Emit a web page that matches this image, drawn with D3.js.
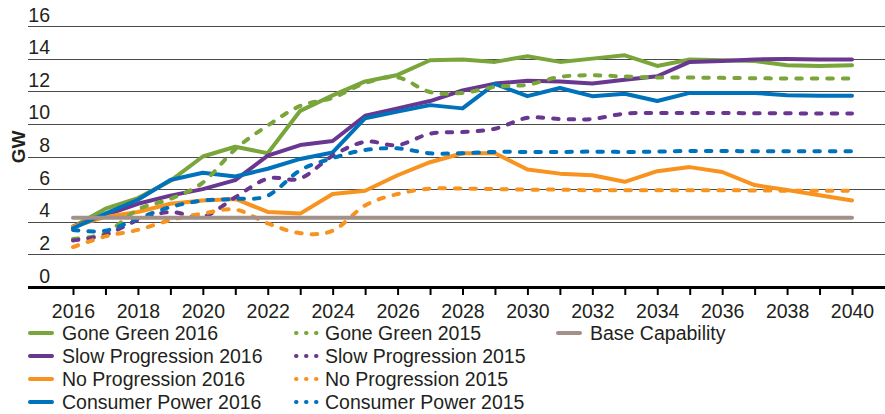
<!DOCTYPE html>
<html>
<head>
<meta charset="utf-8">
<script src="https://cdn.jsdelivr.net/npm/d3@7"></script>
<style>
  body { margin: 0; background: #fff; }
  text { font-family: "Liberation Sans", Arial, sans-serif; fill: #231f20; }
</style>
</head>
<body>
<div id="chart"></div>
<script>
// years on the x axis
var years = d3.range(2016, 2041);
var tickLabels = [2016, 2018, 2020, 2022, 2024, 2026, 2028, 2030, 2032, 2034, 2036, 2038, 2040];
var yTicks = [0, 2, 4, 6, 8, 10, 12, 14, 16];

// GW values, 2016..2040
var goneGreen2016 = [3.7, 4.8, 5.45, 6.5, 8.0, 8.6, 8.2, 10.8, 11.75, 12.6, 13.0, 13.9, 13.95, 13.8, 14.15, 13.8, 14.0, 14.2, 13.55, 13.95, 13.9, 13.85, 13.6, 13.55, 13.6];
var slowProgression2016 = [3.7, 4.4, 5.1, 5.6, 6.0, 6.55, 8.05, 8.7, 8.95, 10.5, 10.95, 11.4, 12.05, 12.47, 12.65, 12.6, 12.47, 12.7, 12.92, 13.8, 13.86, 13.95, 13.97, 13.95, 13.95];
var noProgression2016 = [3.7, 4.3, 4.6, 5.1, 5.3, 5.4, 4.6, 4.5, 5.7, 5.9, 6.85, 7.65, 8.2, 8.2, 7.2, 6.95, 6.85, 6.45, 7.1, 7.35, 7.05, 6.25, 5.95, 5.62, 5.3];
var consumerPower2016 = [3.6, 4.5, 5.35, 6.56, 7.0, 6.77, 7.25, 7.85, 8.25, 10.35, 10.75, 11.15, 10.95, 12.45, 11.7, 12.2, 11.7, 11.85, 11.4, 11.9, 11.9, 11.9, 11.75, 11.72, 11.72];
var goneGreen2015 = [2.95, 3.3, 4.75, 5.4, 6.4, 8.45, 9.9, 11.1, 11.6, 12.5, 12.85, 11.95, 11.9, 12.27, 12.4, 12.88, 12.98, 12.9, 12.84, 12.84, 12.82, 12.8, 12.78, 12.78, 12.78];
var slowProgression2015 = [2.85, 3.2, 4.1, 4.6, 4.3, 5.5, 6.65, 6.65, 8.05, 8.9, 8.7, 9.4, 9.5, 9.7, 10.37, 10.3, 10.3, 10.63, 10.67, 10.67, 10.67, 10.65, 10.65, 10.63, 10.63];
var noProgression2015 = [2.45, 3.1, 3.5, 4.1, 4.5, 4.75, 3.9, 3.3, 3.45, 5.0, 5.7, 6.03, 6.03, 6.0, 5.97, 5.97, 5.93, 5.93, 5.93, 5.93, 5.93, 5.92, 5.9, 5.9, 5.9];
var consumerPower2015 = [3.5, 3.45, 4.2, 4.9, 5.3, 5.4, 5.6, 7.16, 7.9, 8.4, 8.5, 8.2, 8.2, 8.28, 8.28, 8.28, 8.3, 8.28, 8.3, 8.34, 8.34, 8.32, 8.32, 8.32, 8.32];
var baseCapability = [4.25, 4.25, 4.25, 4.25, 4.25, 4.25, 4.25, 4.25, 4.25, 4.25, 4.25, 4.25, 4.25, 4.25, 4.25, 4.25, 4.25, 4.25, 4.25, 4.25, 4.25, 4.25, 4.25, 4.25, 4.25];

var seriesNames = ["Gone Green 2016", "Slow Progression 2016", "No Progression 2016", "Consumer Power 2016",
  "Gone Green 2015", "Slow Progression 2015", "No Progression 2015", "Consumer Power 2015", "Base Capability"];

function init() {
  var width = 885, height = 414;
  var green = "#7aa53a", purple = "#693790", orange = "#f7931e", blue = "#0072bb", grey = "#a19189";

  var series = [
    { name: seriesNames[0], values: goneGreen2016, color: green, dashed: false },
    { name: seriesNames[1], values: slowProgression2016, color: purple, dashed: false },
    { name: seriesNames[2], values: noProgression2016, color: orange, dashed: false },
    { name: seriesNames[3], values: consumerPower2016, color: blue, dashed: false },
    { name: seriesNames[4], values: goneGreen2015, color: green, dashed: true },
    { name: seriesNames[5], values: slowProgression2015, color: purple, dashed: true },
    { name: seriesNames[6], values: noProgression2015, color: orange, dashed: true },
    { name: seriesNames[7], values: consumerPower2015, color: blue, dashed: true },
    { name: seriesNames[8], values: baseCapability, color: grey, dashed: false }
  ];

  var svg = d3
    .select("#chart")
    .append("svg")
    .attr("width", width)
    .attr("height", height);

  var x = d3.scaleLinear().domain([2016, 2040]).range([73, 852]);
  var y = d3.scaleLinear().domain([0, 16]).range([287, 26]);

  // horizontal gridlines + y labels (labels sit above each line)
  svg.append("g")
    .selectAll("line")
    .data(yTicks.slice(1))
    .enter()
    .append("line")
    .attr("x1", 28)
    .attr("x2", 885)
    .attr("y1", function (d) { return Math.round(y(d)) + 0.5; })
    .attr("y2", function (d) { return Math.round(y(d)) + 0.5; })
    .attr("stroke", "#4a4a4a")
    .attr("stroke-width", 1);

  svg.append("g")
    .selectAll("text")
    .data(yTicks)
    .enter()
    .append("text")
    .attr("x", 50)
    .attr("y", function (d) { return y(d) - 4.5; })
    .attr("text-anchor", "end")
    .style("font-size", "19.5px")
    .text(function (d) { return d; });

  svg.append("text")
    .attr("transform", "translate(24.5,147) rotate(-90)")
    .attr("text-anchor", "middle")
    .style("font-size", "19px")
    .style("font-weight", "bold")
    .text("GW");

  // x axis: long line, a tick for every year, label every other year
  svg.append("line")
    .attr("x1", 28)
    .attr("x2", 885)
    .attr("y1", 287.5)
    .attr("y2", 287.5)
    .attr("stroke", "#000")
    .attr("stroke-width", 3);

  var xAxis = d3.axisBottom(x)
    .tickValues(years)
    .tickSize(8)
    .tickFormat(function (d) { return tickLabels.indexOf(d) >= 0 ? d : ""; });

  var gx = svg.append("g")
    .attr("transform", "translate(0,287)")
    .call(xAxis);
  gx.select(".domain").remove();
  gx.selectAll(".tick line").attr("stroke", "#000").attr("stroke-width", 2);
  gx.selectAll(".tick text")
    .attr("y", 13)
    .attr("dy", "0.9em")
    .style("font-size", "19.5px")
    .style("font-family", "'Liberation Sans', Arial, sans-serif")
    .attr("fill", "#231f20");

  // lines: 2016 straight, 2015 smoothed like the source
  var solidLine = d3.line()
    .x(function (d, i) { return x(years[i]); })
    .y(function (d) { return y(d); });
  var smoothLine = d3.line()
    .curve(d3.curveCardinal.tension(0))
    .x(function (d, i) { return x(years[i]); })
    .y(function (d) { return y(d); });

  svg.append("g")
    .selectAll("path")
    .data(series)
    .enter()
    .append("path")
    .attr("d", function (d) { return d.dashed ? smoothLine(d.values) : solidLine(d.values); })
    .attr("fill", "none")
    .attr("stroke", function (d) { return d.color; })
    .attr("stroke-width", 4)
    .attr("stroke-linecap", "round")
    .attr("stroke-linejoin", "round")
    .attr("stroke-dasharray", function (d) { return d.dashed ? "5.5,10" : null; });

  // legend, 3 columns, 4 rows
  var legendPos = [
    [28, 333], [28, 356], [28, 379], [28, 402],
    [294, 333], [294, 356], [294, 379], [294, 402],
    [556, 333]
  ];
  var legend = svg.append("g")
    .selectAll("g")
    .data(series)
    .enter()
    .append("g")
    .attr("transform", function (d, i) { return "translate(" + legendPos[i] + ")"; });

  legend.append("line")
    .attr("x1", 2)
    .attr("x2", 24)
    .attr("y1", 0)
    .attr("y2", 0)
    .attr("stroke", function (d) { return d.color; })
    .attr("stroke-width", 4)
    .attr("stroke-linecap", "round")
    .attr("stroke-dasharray", function (d) { return d.dashed ? "0.5,9.5" : null; });

  legend.append("text")
    .attr("x", function (d) { return d.dashed ? 31 : 34; })
    .attr("y", 0)
    .attr("dy", "0.35em")
    .style("font-size", "19.5px")
    .text(function (d) { return d.name; });
}

window.onload = init;
</script>
</body>
</html>
